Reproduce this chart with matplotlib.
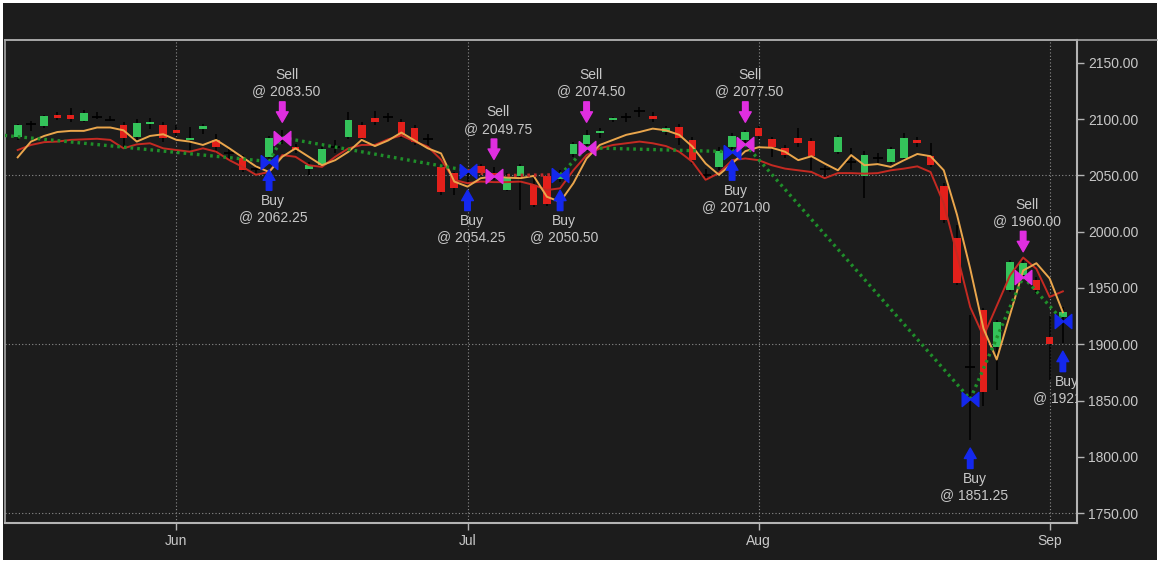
import matplotlib
matplotlib.use("Agg")
import matplotlib.pyplot as plt
import matplotlib.patches as patches
from matplotlib.lines import Line2D
from matplotlib.path import Path
from matplotlib.ticker import FormatStrFormatter

plt.rcParams["font.family"] = ["Liberation Sans", "DejaVu Sans"]

# daily bars (one per trading day)
opens = [2084, 2095.5, 2094, 2104, 2103.5, 2098.5, 2102, 2099.5, 2094.5, 2084,
         2095.5, 2094.5, 2090, 2081.5, 2091, 2081.5, 2069.5, 2065, 2056, 2066.5,
         2083, 2075.5, 2056, 2059, 2075.5, 2084, 2094.5, 2100.5, 2101.5, 2097.5,
         2092, 2082.5, 2057.5, 2052, 2052, 2058.5, 2052, 2037, 2049, 2041.5,
         2049, 2047, 2069, 2078, 2087.5, 2099, 2102, 2107, 2103, 2088.5,
         2093, 2081.5, 2050.5, 2057, 2075, 2081, 2092, 2082.5, 2074, 2083,
         2080.5, 2055.5, 2071, 2062, 2049, 2065.5, 2062, 2065, 2081, 2067,
         2040.5, 1994, 1880, 1930, 1898, 1948, 1961.5, 1957, 1906.5, 1924.5]
highs = [2096, 2098.5, 2104, 2106, 2109.5, 2108, 2106, 2103, 2097.5, 2100,
         2100.5, 2097.5, 2094.5, 2093, 2096, 2087, 2073, 2068, 2059, 2085,
         2090, 2078, 2062, 2077, 2081, 2106.5, 2097, 2107, 2105, 2100,
         2095, 2087, 2060, 2053, 2056, 2060, 2057, 2052, 2060, 2050,
         2050, 2055, 2080, 2090, 2092, 2102, 2105, 2110.5, 2106, 2094,
         2096, 2084, 2056, 2075, 2088, 2090, 2094, 2084, 2077, 2092,
         2083, 2058, 2086, 2074, 2072, 2070, 2075, 2088, 2084, 2079,
         2043, 2006, 1926, 1932, 1922, 1975, 1975, 1960, 1925, 1933]
lows = [2081, 2089.5, 2092, 2099, 2097.5, 2097.5, 2100, 2098, 2074, 2081.5,
        2091, 2080, 2085, 2072.5, 2087, 2070, 2063, 2053, 2052, 2062,
        2078, 2070, 2050, 2058, 2070, 2082, 2080, 2095, 2097.5, 2083,
        2077, 2074, 2033, 2032.5, 2044, 2050, 2046, 2036, 2019, 2022,
        2023, 2044, 2066, 2072, 2083, 2097, 2097, 2102, 2097, 2086,
        2077, 2060, 2045, 2055, 2071, 2077, 2082, 2066.5, 2065, 2075,
        2054.5, 2047, 2069, 2054.5, 2030, 2060, 2060, 2063, 2075, 2057,
        2008, 1953, 1815, 1845, 1859, 1946, 1958, 1945, 1868, 1901]
closes = [2094.5, 2095.5, 2102.5, 2100.5, 2100, 2105, 2102, 2099.5, 2083, 2096.5,
          2097.5, 2083, 2088, 2083.5, 2093.5, 2075.5, 2069.5, 2055, 2056, 2083,
          2084.5, 2072.5, 2059, 2073, 2075.5, 2099, 2083, 2097.5, 2101.5, 2086,
          2079.5, 2082.5, 2035.5, 2038.5, 2052, 2052.5, 2050, 2048, 2058, 2023.5,
          2025, 2051, 2077.5, 2086, 2089.5, 2100.5, 2102, 2107, 2100, 2092,
          2083.5, 2063.5, 2050.5, 2072, 2085, 2088.5, 2085, 2075, 2068, 2079,
          2067, 2055.5, 2084, 2062, 2068.5, 2065.5, 2073, 2083, 2078.5, 2059,
          2010.5, 1954, 1880, 1858, 1920, 1973, 1972, 1948, 1900, 1929]

# the two moving-average lines as drawn on the chart
ma_orange = [2066, 2080, 2085, 2088.5, 2089.5, 2089.5, 2092.5, 2092.5, 2090, 2080,
             2085, 2086.5, 2081.5, 2080, 2077, 2081.5, 2074, 2066, 2058, 2053,
             2066.5, 2074, 2066.5, 2059, 2063.5, 2071, 2081.5, 2076, 2081, 2088,
             2081, 2074, 2069.5, 2044.5, 2040, 2047.5, 2049, 2048, 2047.5, 2049.5,
             2031, 2026.5, 2043, 2065, 2077, 2081.5, 2086, 2088.5, 2091.5, 2090,
             2086, 2075.5, 2060.5, 2050.5, 2060.5, 2071.5, 2075, 2074.5, 2071, 2063.5,
             2067, 2060.5, 2054.5, 2068, 2059, 2060, 2057.5, 2063.5, 2069, 2067,
             2054.5, 2015, 1967, 1914, 1886.5, 1926, 1965.5, 1972, 1958.5, 1928.5]
ma_red = [2072.5, 2077, 2079.5, 2080, 2081.5, 2082, 2082.5, 2081.5, 2074, 2077.5,
          2078.5, 2074, 2072.5, 2071, 2074, 2071, 2063.5, 2057.5, 2050.5, 2053,
          2068, 2066.5, 2059, 2057.5, 2066.5, 2074, 2077, 2077, 2082, 2085.5,
          2080, 2075.5, 2064, 2046, 2043, 2044.5, 2044, 2044, 2044.5, 2041.5,
          2037, 2038.5, 2054.5, 2068, 2074, 2077, 2078.5, 2080, 2078.5, 2076,
          2071, 2062, 2046, 2052, 2063.5, 2065, 2063.5, 2059, 2056, 2054.5,
          2053, 2047.5, 2052, 2052, 2051.5, 2052, 2054.5, 2056, 2058, 2053,
          2025, 1980, 1933, 1907, 1934, 1961, 1977, 1967, 1942, 1947]

# trade signals
trade_bars = [19, 20, 34, 36, 41, 43, 54, 55, 72, 76, 79]
trade_sides = ["Buy", "Sell", "Buy", "Sell", "Buy", "Sell", "Buy", "Sell", "Buy", "Sell", "Buy"]
trade_prices = [2062.25, 2083.50, 2054.25, 2049.75, 2050.50, 2074.50,
                2071.00, 2077.50, 1851.25, 1960.00, 1921.00]
prior_trade = (-1, 2085.5, "Sell")  # open position coming in from the left

month_bars = [12, 34, 56, 78]
month_labels = ["Jun", "Jul", "Aug", "Sep"]
price_ticks = [1750, 1800, 1850, 1900, 1950, 2000, 2050, 2100, 2150]
grid_prices = [1750, 1900, 2050]

BG = "#1c1c1c"
UP = "#34c35a"
DOWN = "#e3201b"
ORANGE = "#eaa64c"
RED = "#c42a22"
WIN = "#1f8f2a"
LOSS = "#c02a2a"
BUY = "#1428ee"
SELL = "#e02ee0"
TXT = "#c8c8c8"
AXC = "#b4b4b4"

W, H = 1160, 563
fig = plt.figure(figsize=(W / 100, H / 100), dpi=100, facecolor="white")
fig.add_artist(patches.Rectangle((3 / W, 3 / H), (W - 6) / W, (H - 6) / H,
                                 transform=fig.transFigure, facecolor=BG,
                                 edgecolor="none", zorder=-5))
fig.add_artist(Line2D([5 / W, (W - 3) / W], [1 - 40 / H, 1 - 40 / H],
                      transform=fig.transFigure, color="#a8a8a8", lw=1.2))

ax = fig.add_axes([5 / W, 1 - 523 / H, 1072 / W, 483 / H])
ax.set_facecolor(BG)

n = len(closes)
xs = list(range(n))

# grid
for b in month_bars:
    ax.axvline(b, color="#8c8c8c", lw=0.8, ls=(0, (1, 2)), zorder=0)
for g in grid_prices:
    ax.axhline(g, color="#8c8c8c", lw=0.8, ls=(0, (1, 2)), zorder=0)

# candles
ax.vlines(xs, lows, highs, color="black", lw=1.1, zorder=2)
for i in xs:
    o, c = opens[i], closes[i]
    if o == c:
        ax.hlines(o, i - 0.38, i + 0.38, color="black", lw=1.3, zorder=3)
    else:
        ax.bar(i, abs(c - o), bottom=min(o, c), width=0.58,
               color=UP if c > o else DOWN, zorder=3, lw=0)

# moving averages
ax.plot(xs, ma_red, color=RED, lw=1.4, zorder=4)
ax.plot(xs, ma_orange, color=ORANGE, lw=1.4, zorder=4)

# trade lines
pts = [prior_trade] + list(zip(trade_bars, trade_prices, trade_sides))
for (b0, p0, s0), (b1, p1, _) in zip(pts[:-1], pts[1:]):
    pnl = p1 - p0 if s0 == "Buy" else p0 - p1
    ax.plot([b0, b1], [p0, p1], color=WIN if pnl > 0 else LOSS, lw=2.4,
            ls=(0, (0.8, 1.2)), zorder=5)

bowtie = Path([(-1, 0.85), (0, 0), (1, 0.85), (1, -0.85), (0, 0), (-1, -0.85), (-1, 0.85)])

for b, side, price in zip(trade_bars, trade_sides, trade_prices):
    col = BUY if side == "Buy" else SELL
    ax.plot(b, price, marker=bowtie, ms=12, color=col, ls="none", zorder=7)
    sign = -1 if side == "Buy" else 1
    anchor = lows[b] if side == "Buy" else highs[b]
    ax.annotate("", xy=(b, anchor), xytext=(0, sign * 20.5), textcoords="offset points",
                arrowprops=dict(arrowstyle="simple,head_length=0.75,head_width=0.85,tail_width=0.4",
                                color=col, shrinkA=0, shrinkB=5.8, mutation_scale=10),
                zorder=7)
    ax.annotate(f"{side}\n@ {price:.2f}", xy=(b, anchor), xytext=(3, sign * 23),
                textcoords="offset points", ha="center",
                va="top" if side == "Buy" else "bottom",
                color=TXT, fontsize=10, clip_on=True, zorder=8)

ax.set_xlim(-0.96, 80.07)
ax.set_ylim(1741.3, 2170.2)

ax.yaxis.tick_right()
ax.set_yticks(price_ticks)
ax.yaxis.set_major_formatter(FormatStrFormatter("%.2f"))
ax.set_xticks(month_bars)
ax.set_xticklabels(month_labels)
ax.tick_params(axis="both", colors=AXC, labelcolor=TXT, labelsize=10,
               length=5, width=1, pad=3)

for side in ["top", "left"]:
    ax.spines[side].set_color("#a8a8a8")
    ax.spines[side].set_linewidth(1.2)
for side in ["bottom", "right"]:
    ax.spines[side].set_color(AXC)
    ax.spines[side].set_linewidth(1.5)

fig.savefig("out.png", dpi=100, facecolor="white")
